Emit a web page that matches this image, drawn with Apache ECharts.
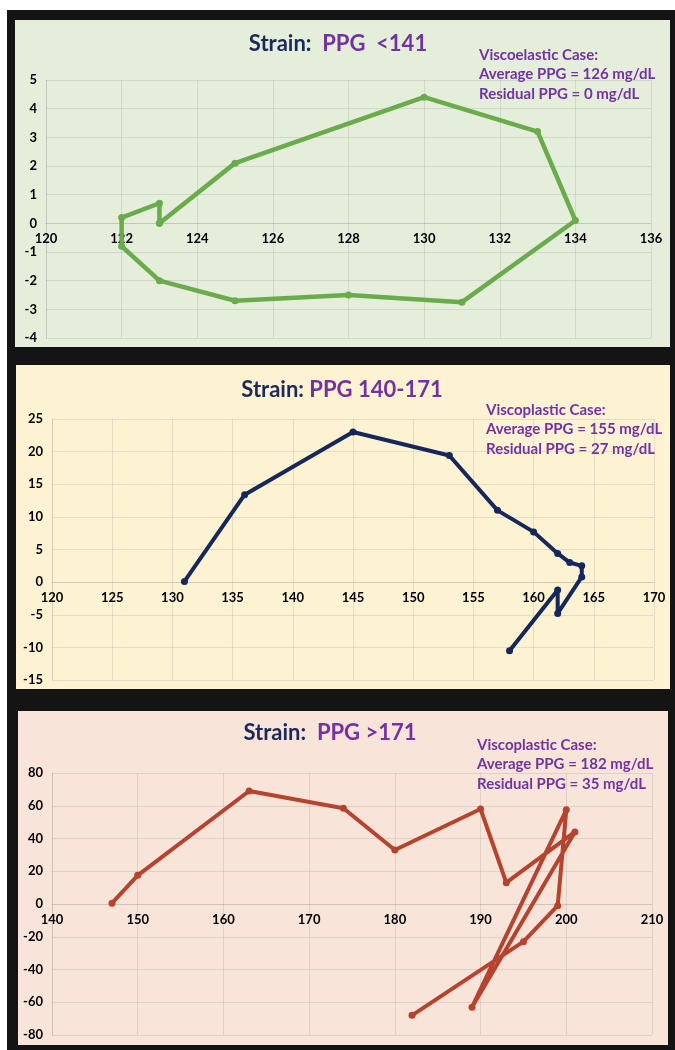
<!DOCTYPE html>
<html>
<head>
<meta charset="utf-8">
<script src="https://cdn.jsdelivr.net/npm/echarts@6/dist/echarts.min.js"></script>
<style>
  html, body { margin: 0; padding: 0; background: #fff; }
  .frame { position: absolute; left: 7px; top: 10px; width: 668px; height: 1040px; background: #141414; }
  .panel { position: absolute; }
</style>
</head>
<body>
<div class="frame"></div>
<div class="panel" id="p1" style="left:15px;top:20px;width:655px;height:327px;background:#e4eedb;"></div>
<div class="panel" id="p2" style="left:16px;top:365px;width:654px;height:324px;background:#fdf3d2;"></div>
<div class="panel" id="p3" style="left:18px;top:711px;width:650px;height:334px;background:#f8e4d8;"></div>
<script>
// 数据：每个面板的 PPG (x) 与 应变 (y)
const p1X = [123, 125, 130, 133, 134, 131, 128, 125, 123, 122, 122, 123, 123];
const p1Y = [0, 2.1, 4.4, 3.2, 0.1, -2.75, -2.5, -2.7, -2.0, -0.8, 0.2, 0.7, 0];

const p2X = [131, 136, 145, 153, 157, 160, 162, 163, 164, 164, 162, 162, 158];
const p2Y = [0.1, 13.4, 23.0, 19.4, 11.0, 7.7, 4.4, 3.0, 2.5, 0.8, -4.8, -1.2, -10.5];

const p3X = [147, 150, 163, 174, 180, 190, 193, 201, 189, 200, 199, 195, 182];
const p3Y = [0.5, 17.5, 69, 58.5, 33, 58, 13, 44, -63, 57.5, -1, -23, -68];

const titles = [
  ["Strain:  ", "PPG  <141"],
  ["Strain: ", "PPG 140-171"],
  ["Strain:  ", "PPG >171"],
];
const notes = [
  ["Viscoelastic Case:", "Average PPG = 126 mg/dL", "Residual PPG = 0 mg/dL"],
  ["Viscoplastic Case:", "Average PPG = 155 mg/dL", "Residual PPG = 27 mg/dL"],
  ["Viscoplastic Case:", "Average PPG = 182 mg/dL", "Residual PPG = 35 mg/dL"],
];

const FONT = "Lato, 'Open Sans', sans-serif";
const gridColor = "rgba(140,140,140,0.22)";

function makeChart(id, cfg) {
  const chart = echarts.init(document.getElementById(id), null, { renderer: "canvas" });
  const pts = cfg.xs.map((x, i) => [x, cfg.ys[i]]);
  const t = titles[cfg.idx];
  const n = notes[cfg.idx];
  const label = { color: "#000", fontWeight: "bold", fontSize: 13, fontFamily: FONT };
  // x 轴放在 y=0 处（按 y 轴范围换算成偏移量）
  const zeroOffset = -(0 - cfg.yMin) / (cfg.yMax - cfg.yMin) * cfg.grid.height;
  const option = {
    animation: false,
    grid: cfg.grid,
    graphic: [
      {
        type: "text",
        x: cfg.titlePos[0],
        y: cfg.titlePos[1],
        style: {
          text: "{a|" + t[0] + "}{b|" + t[1] + "}",
          textAlign: "center",
          textVerticalAlign: "middle",
          rich: {
            a: { fill: "#1b2a5a", color: "#1b2a5a", fontSize: 22, fontWeight: "bold", fontFamily: FONT },
            b: { fill: "#7232a2", color: "#7232a2", fontSize: 22, fontWeight: "bold", fontFamily: FONT },
          },
        },
      },
    ].concat(
      n.map((line, i) => ({
        type: "text",
        x: cfg.notePos[0],
        y: cfg.notePos[1] + i * 19.5,
        style: {
          text: line,
          fill: "#7232a2",
          font: "bold 15px " + FONT,
          textVerticalAlign: "middle",
        },
      }))
    ),
    xAxis: {
      type: "value",
      position: "bottom",
      offset: zeroOffset,
      min: cfg.xMin,
      max: cfg.xMax,
      interval: cfg.xStep,
      axisLine: { show: true, onZero: false, lineStyle: { color: gridColor } },
      axisTick: { show: false },
      axisLabel: Object.assign({ margin: 9 }, label),
      splitLine: { show: true, lineStyle: { color: gridColor } },
    },
    yAxis: {
      type: "value",
      min: cfg.yMin,
      max: cfg.yMax,
      interval: cfg.yStep,
      axisLine: { show: true, onZero: false, lineStyle: { color: gridColor } },
      axisTick: { show: false },
      axisLabel: Object.assign({ margin: 9 }, label),
      splitLine: { show: true, lineStyle: { color: gridColor } },
    },
    series: [
      {
        type: "line",
        data: pts,
        symbol: "circle",
        symbolSize: 7,
        itemStyle: { color: cfg.color },
        lineStyle: { color: cfg.color, width: cfg.width },
      },
    ],
  };
  chart.setOption(option);
  return chart;
}

makeChart("p1", {
  idx: 0, xs: p1X, ys: p1Y, color: "#6aab4c", width: 4.5,
  grid: { left: 31, top: 60, width: 605, height: 258 },
  xMin: 120, xMax: 136, xStep: 2, yMin: -4, yMax: 5, yStep: 1,
  titlePos: [323, 24], notePos: [464, 35],
});
makeChart("p2", {
  idx: 1, xs: p2X, ys: p2Y, color: "#15275b", width: 4,
  grid: { left: 36, top: 54, width: 602, height: 261 },
  xMin: 120, xMax: 170, xStep: 5, yMin: -15, yMax: 25, yStep: 5,
  titlePos: [326, 25], notePos: [470, 45],
});
makeChart("p3", {
  idx: 2, xs: p3X, ys: p3Y, color: "#b7432f", width: 4,
  grid: { left: 34, top: 62, width: 600, height: 262 },
  xMin: 140, xMax: 210, xStep: 10, yMin: -80, yMax: 80, yStep: 20,
  titlePos: [312, 22], notePos: [459, 34],
});
</script>
</body>
</html>
